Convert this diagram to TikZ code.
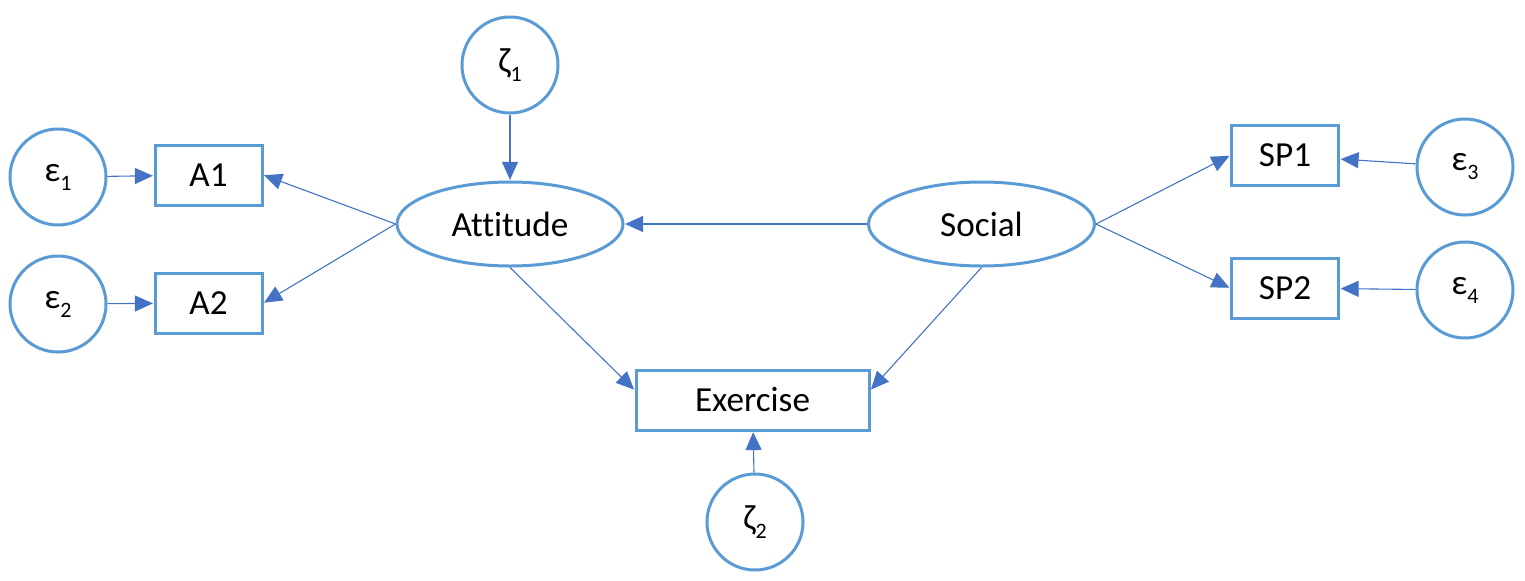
\documentclass[tikz,border=0pt]{standalone}
\usepackage{fontspec}
\setmainfont{Carlito}[Ligatures=NoCommon]
\usetikzlibrary{shapes.geometric,arrows.meta}
\definecolor{shapeblue}{RGB}{91,155,213}
\definecolor{arrowblue}{RGB}{68,114,196}
\newcommand{\sub}[1]{\raisebox{-4.5pt}{\fontsize{11}{12}\selectfont #1}}
\tikzset{
  base/.style={draw=shapeblue,line width=1.5pt,fill=white,inner sep=0pt,font=\fontsize{17.6}{19}\selectfont},
  errc/.style={base,circle,minimum size=48pt},
  obs/.style={base,rectangle,minimum width=53.5pt,minimum height=30pt},
  lat/.style={base,ellipse,minimum width=113pt,minimum height=42pt},
  arr/.style={draw=arrowblue,line width=0.55pt,-{Triangle[length=9pt,width=8pt]},shorten >=0.3pt}
}
\begin{document}
\begin{tikzpicture}[x=0.5pt,y=-0.5pt]
\useasboundingbox (0,0) rectangle (1525,580);
\node[errc] (z1) at (510,65) {ζ\sub{1}};
\node[errc] (e1) at (58,177) {ε\sub{1}};
\node[errc] (e2) at (58,304) {ε\sub{2}};
\node[errc] (e3) at (1465,167) {ε\sub{3}};
\node[errc] (e4) at (1465,290) {ε\sub{4}};
\node[errc] (z2) at (755,522) {ζ\sub{2}};
\node[obs] (a1) at (208.5,175) {A1};
\node[obs] (a2) at (208.5,303) {A2};
\node[obs] (sp1) at (1285,155.5) {SP1};
\node[obs] (sp2) at (1285,288) {SP2};
\node[obs,minimum width=116.5pt] (ex) at (752.5,400) {Exercise};
\node[lat] (att) at (510,224) {Attitude};
\node[lat] (soc) at (981.5,224) {Social};
\draw[arr] (e1) -- (a1);
\draw[arr] (e2) -- (a2);
\draw[arr] (z1) -- (att);
\draw[arr] (att.west) -- (a1.east);
\draw[arr] (att.west) -- (a2.east);
\draw[arr] (soc.west) -- (att.east);
\draw[arr] (soc.east) -- (sp1.west);
\draw[arr] (soc.east) -- (sp2.west);
\draw[arr] (e3) -- (sp1);
\draw[arr] (e4) -- (sp2);
\draw[arr] (att.south) -- ([yshift=5]ex.west);
\draw[arr] (soc.south) -- ([yshift=5]ex.east);
\draw[arr] (z2) -- (ex);
\end{tikzpicture}
\end{document}
